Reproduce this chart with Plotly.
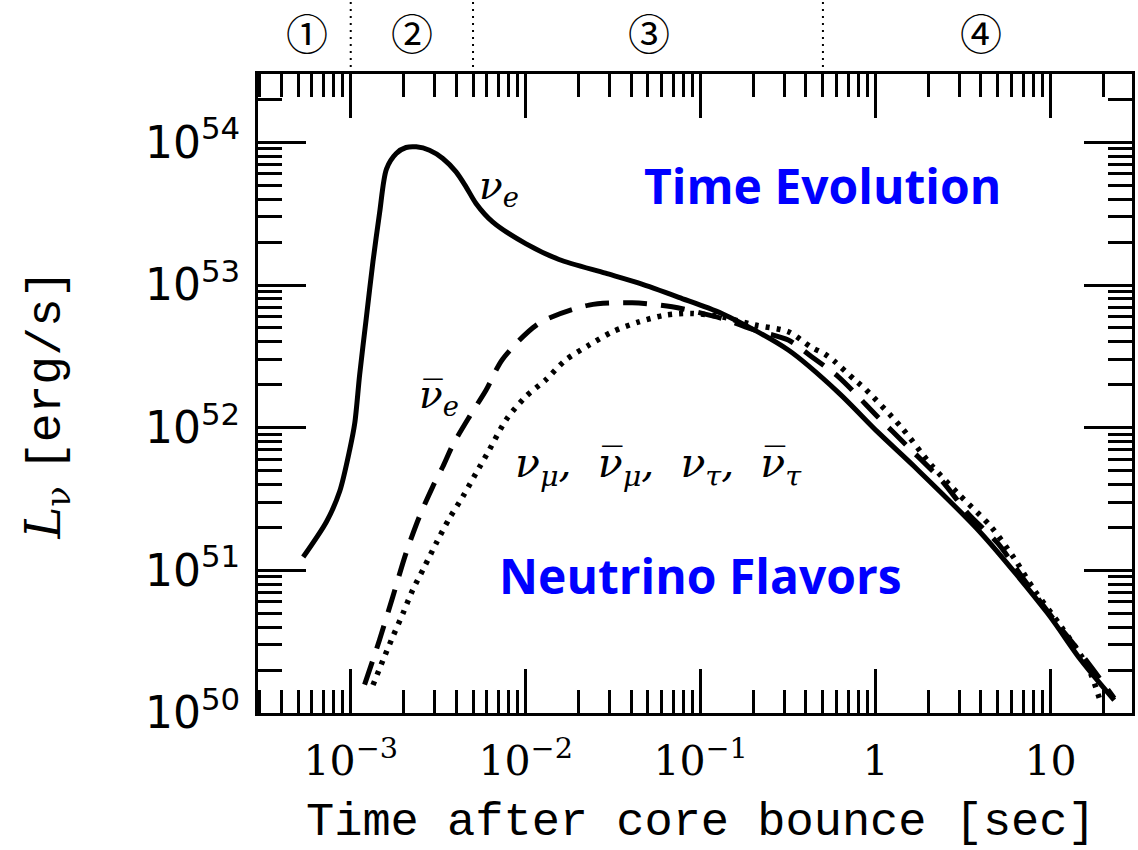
import math
import plotly.graph_objects as go

# ---- data ----
t_nue = [5.35e-4, 7.28e-4, 8.65e-4, 9.86e-4, 1.054e-3, 1.125e-3, 1.227e-3, 1.34e-3, 1.462e-3,
         1.60e-3, 1.82e-3, 2.07e-3, 2.37e-3, 2.82e-3, 3.36e-3, 4.0e-3, 4.56e-3, 5.20e-3,
         6.47e-3, 1.0e-2, 1.55e-2, 2.86e-2, 4.44e-2, 7.5e-2, 0.132, 0.317, 0.611, 1.03, 1.67,
         4.01, 9.62, 14.9, 23.1]
L_nue = [1.24e51, 2.20e51, 3.58e51, 6.98e51, 1.07e52, 2.36e52, 5.85e52, 1.46e53, 3.20e53,
         6.5e53, 8.36e53, 9.2e53, 9.3e53, 8.81e53, 7.71e53, 6.21e53, 4.88e53, 3.73e53,
         2.77e53, 1.95e53, 1.51e53, 1.21e53, 1.03e53, 8.2e52, 6.32e52, 3.50e52, 1.77e52,
         9.3e51, 5.32e51, 1.82e51, 5.0e50, 2.35e50, 1.23e50]

t_nuebar = [1.20e-3, 1.46e-3, 1.74e-3, 2.07e-3, 2.47e-3, 2.94e-3, 3.36e-3, 3.83e-3, 4.76e-3,
            5.93e-3, 7.38e-3, 1.19e-2, 2.30e-2, 4.06e-2, 6.87e-2, 0.132, 0.204, 0.317, 0.431,
            0.611, 1.03, 1.53, 2.37, 3.37, 4.99, 7.08, 10.5, 14.9, 22.1, 23.1]
L_nuebar = [1.58e50, 3.25e50, 6.53e50, 1.32e51, 2.38e51, 3.85e51, 5.32e51, 7.55e51, 1.19e52,
            1.83e52, 3.02e52, 5.38e52, 7.23e52, 7.50e52, 7.03e52, 5.83e52, 4.83e52, 4.11e52,
            3.14e52, 2.28e52, 1.19e52, 7.35e51, 4.30e51, 2.51e51, 1.55e51, 8.55e50, 4.49e50,
            2.62e50, 1.37e50, 1.27e50]

t_nux = [1.34e-3, 1.53e-3, 1.74e-3, 1.99e-3, 2.26e-3, 2.64e-3, 3.08e-3, 3.66e-3, 4.37e-3,
         5.20e-3, 6.19e-3, 7.71e-3, 1.0e-2, 1.30e-2, 1.69e-2, 2.30e-2, 3.13e-2, 4.44e-2,
         6.30e-2, 8.91e-2, 0.132, 0.204, 0.317, 0.431, 0.513, 0.585, 0.760, 0.867, 1.40, 2.08,
         2.95, 4.57, 6.21, 8.07, 11.5, 16.3, 19.4]
L_nux = [1.57e50, 2.35e50, 3.43e50, 5.0e50, 7.28e50, 1.06e51, 1.55e51, 2.31e51, 3.28e51,
         4.79e51, 6.97e51, 1.13e52, 1.65e52, 2.16e52, 2.98e52, 3.79e52, 4.70e52, 5.52e52,
         6.15e52, 6.32e52, 5.98e52, 5.24e52, 4.70e52, 3.65e52, 3.28e52, 2.90e52, 2.16e52,
         1.88e52, 1.01e52, 5.47e51, 3.47e51, 2.02e51, 1.21e51, 7.28e50, 4.03e50, 2.11e50,
         1.17e50]

x_tickvals = [1e-3, 1e-2, 1e-1, 1, 10]
x_ticktext = ["10<sup>\u22123</sup>", "10<sup>\u22122</sup>", "10<sup>\u22121</sup>", "1", "10"]
y_tickvals = [1e50, 1e51, 1e52, 1e53, 1e54]
y_ticktext = ["10<sup>50</sup>", "10<sup>51</sup>", "10<sup>52</sup>", "10<sup>53</sup>", "10<sup>54</sup>"]

phase_bounds = [1e-3, 5e-3, 0.5]
phase_labels = ["\u2460", "\u2461", "\u2462", "\u2463"]
phase_label_t = [5.6e-4, 2.25e-3, 5.06e-2, 4.0]

x_minor = [d * 10.0 ** e for e in range(-4, 2) for d in range(2, 10)]
y_minor = [d * 10.0 ** e for e in range(50, 55) for d in range(2, 10)]

fig = go.Figure()
fig.add_trace(go.Scatter(x=t_nue, y=L_nue, mode="lines",
                         line=dict(color="black", width=5, shape="spline", smoothing=0.8),
                         showlegend=False))
fig.add_trace(go.Scatter(x=t_nuebar, y=L_nuebar, mode="lines",
                         line=dict(color="black", width=5, dash="24px,14px", shape="spline", smoothing=0.8),
                         showlegend=False))
fig.add_trace(go.Scatter(x=t_nux, y=L_nux, mode="lines",
                         line=dict(color="black", width=5.5, dash="4px,7px", shape="spline", smoothing=0.8),
                         showlegend=False))

axis_common = dict(
    type="log", showline=True, linewidth=3, linecolor="black", mirror="allticks",
    ticks="inside", tickwidth=3, tickcolor="black", showgrid=False, zeroline=False,
)

fig.update_xaxes(
    **axis_common, range=[-3.530, 1.4655], ticklen=44,
    tickvals=x_tickvals, ticktext=x_ticktext,
    tickfont=dict(family="DejaVu Serif", size=41, color="black"),
    ticklabelstandoff=10,
    minor=dict(ticks="inside", ticklen=23, tickwidth=3, tickcolor="black", tickvals=x_minor),
)
fig.update_yaxes(
    **axis_common, range=[50, 54.479], ticklen=48,
    tickvals=y_tickvals, ticktext=y_ticktext,
    tickfont=dict(family="DejaVu Sans", size=44, color="black"),
    ticklabelstandoff=6,
    minor=dict(ticks="inside", ticklen=24, tickwidth=3, tickcolor="black", tickvals=y_minor),
)

for b in phase_bounds:
    fig.add_shape(type="line", xref="x", yref="paper", x0=b, x1=b, y0=1.0, y1=1.12,
                  line=dict(color="black", width=2, dash="2px,5px"))

annotations = []
for lab, t in zip(phase_labels, phase_label_t):
    annotations.append(dict(x=math.log10(t), y=1.067, xref="x", yref="paper", text=lab,
                            showarrow=False, font=dict(family="Noto Sans CJK JP", size=42, color="black"),
                            xanchor="center", yanchor="middle"))

curve_font = dict(family="DejaVu Serif", size=39, color="black")
annotations += [
    dict(x=-2.151, y=53.679, text="<i>\u03bd<sub>e</sub></i>", font=curve_font),
    dict(x=-2.493, y=52.214, text="<i>\u03bd\u0305<sub>e</sub></i>", font=curve_font),
    dict(x=-1.239, y=51.73,
         text="<i>\u03bd<sub>\u03bc</sub>,\u00a0\u00a0\u03bd\u0305<sub>\u03bc</sub>,\u00a0\u00a0"
              "\u03bd<sub>\u03c4</sub>,\u00a0\u00a0\u03bd\u0305<sub>\u03c4</sub></i>",
         font=dict(family="DejaVu Serif", size=41, color="black")),
    dict(x=-0.305, y=53.70, text="<b>Time Evolution</b>",
         font=dict(family="Open Sans", size=48, color="#0000ff")),
    dict(x=-1.002, y=50.965, text="<b>Neutrino Flavors</b>",
         font=dict(family="Open Sans", size=48, color="#0000ff")),
]
for a in annotations[len(phase_labels):]:
    a.update(xref="x", yref="y", showarrow=False, xanchor="center", yanchor="middle")

annotations += [
    dict(x=0.507, y=-0.1706, xref="paper", yref="paper", showarrow=False,
         text="Time after core bounce [sec]", xanchor="center", yanchor="middle",
         font=dict(family="Liberation Mono", size=47, color="black")),
    dict(x=-0.243, y=0.482, xref="paper", yref="paper", showarrow=False, textangle=-90,
         text="<i>L</i><sub>\u03bd</sub>\u00a0<span style=\"font-family:Liberation Mono\">[erg/s]</span>",
         xanchor="center", yanchor="middle",
         font=dict(family="DejaVu Serif", size=48, color="black")),
]

fig.update_layout(
    width=1138, height=850,
    margin=dict(l=258, r=3, t=74, b=137),
    paper_bgcolor="white", plot_bgcolor="white",
    annotations=annotations,
    showlegend=False,
)

fig.write_html("out.html")
